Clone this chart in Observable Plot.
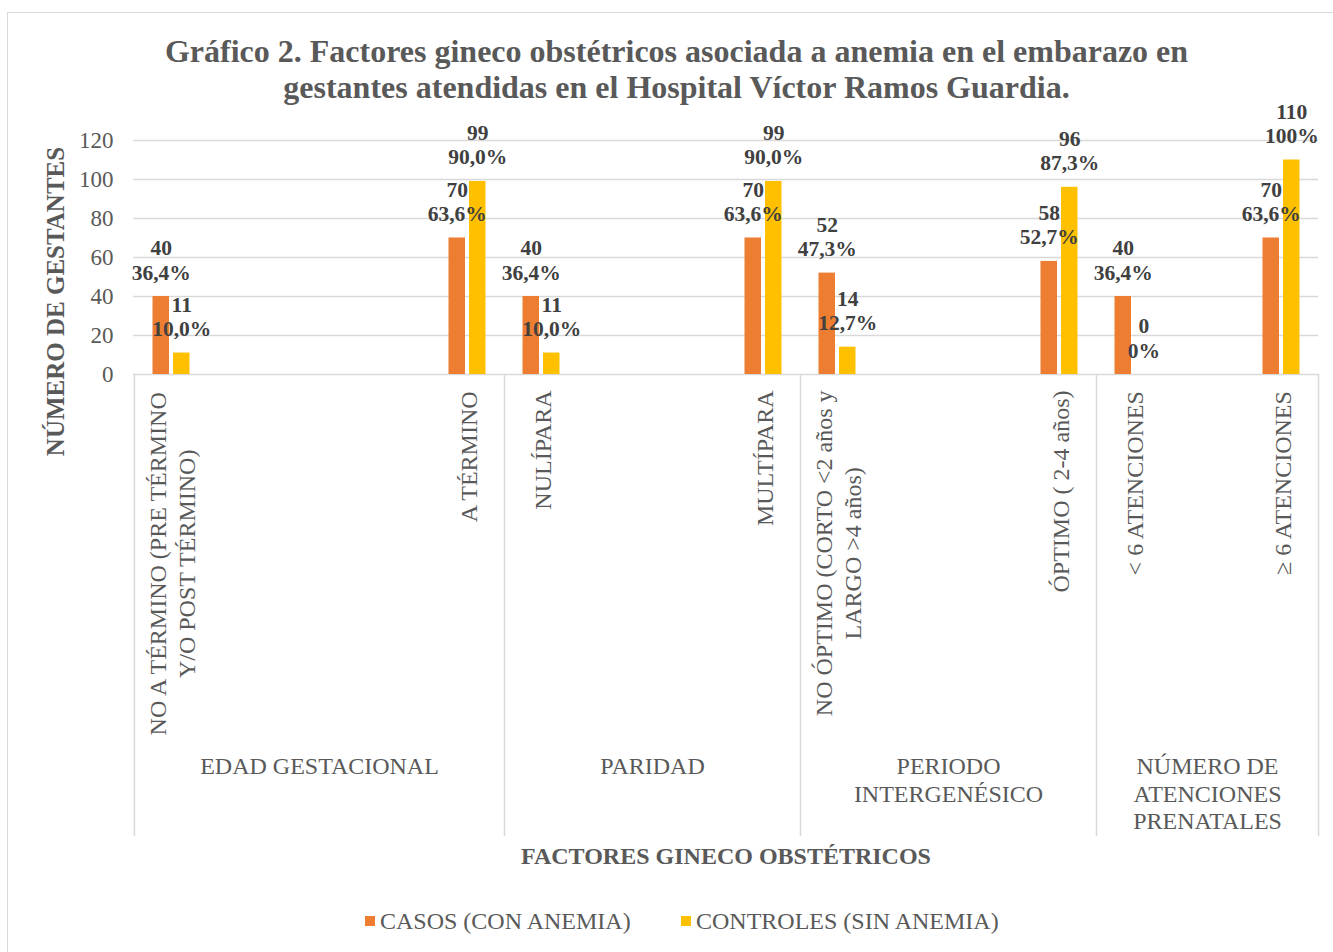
<!DOCTYPE html>
<html><head><meta charset="utf-8">
<script src="https://cdn.jsdelivr.net/npm/d3@7"></script>
<script src="https://cdn.jsdelivr.net/npm/@observablehq/plot@0.6"></script>
<style>
html,body{margin:0;padding:0;background:#fff;overflow:hidden;}
#wrap{position:relative;width:1333px;height:952px;overflow:hidden;font-family:"Liberation Serif","Times New Roman",serif;}
#frame{position:absolute;left:7px;top:12px;width:1345px;height:970px;border:1.5px solid #d9d9d9;box-sizing:border-box;}
#chart{position:absolute;left:0;top:0;}
#title{position:absolute;left:0;top:33px;width:1353px;text-align:center;font-weight:bold;font-size:32px;line-height:36px;color:#595959;}
.leg{position:absolute;top:909px;font-size:24px;line-height:24px;color:#595959;white-space:nowrap;}
.sw{position:absolute;top:916px;width:10px;height:10px;}
</style></head>
<body>
<div id="wrap"><div id="frame"></div><div id="chart"></div><div id="title"></div><div id="legend"></div></div>
<script>
const titleLines = ["Gráfico 2. Factores gineco obstétricos asociada a anemia en el embarazo en", "gestantes atendidas en el Hospital Víctor Ramos Guardia."];
const yTitle = "NÚMERO DE GESTANTES";
const xTitle = "FACTORES GINECO OBSTÉTRICOS";
const seriesNames = ["CASOS (CON ANEMIA)", "CONTROLES (SIN ANEMIA)"];
const seriesColors = ["#ED7D31", "#FFC000"];
const categoryLabels = [
  "NO A TÉRMINO (PRE TÉRMINO\nY/O POST TÉRMINO)", "", "", "", "A TÉRMINO",
  "NULÍPARA", "", "", "MULTÍPARA",
  "NO ÓPTIMO (CORTO <2 años y\nLARGO >4 años)", "", "", "ÓPTIMO ( 2-4 años)",
  "< 6 ATENCIONES", "", "≥ 6 ATENCIONES"
];
const categoryGroups = [
  "EDAD GESTACIONAL", "EDAD GESTACIONAL", "EDAD GESTACIONAL", "EDAD GESTACIONAL", "EDAD GESTACIONAL",
  "PARIDAD", "PARIDAD", "PARIDAD", "PARIDAD",
  "PERIODO\nINTERGENÉSICO", "PERIODO\nINTERGENÉSICO", "PERIODO\nINTERGENÉSICO", "PERIODO\nINTERGENÉSICO",
  "NÚMERO DE\nATENCIONES\nPRENATALES", "NÚMERO DE\nATENCIONES\nPRENATALES", "NÚMERO DE\nATENCIONES\nPRENATALES"
];
const casos = [40, null, null, null, 70, 40, null, null, 70, 52, null, null, 58, 40, null, 70];
const casosPct = ["36,4%", null, null, null, "63,6%", "36,4%", null, null, "63,6%", "47,3%", null, null, "52,7%", "36,4%", null, "63,6%"];
const controles = [11, null, null, null, 99, 11, null, null, 99, 14, null, null, 96, 0, null, 110];
const controlesPct = ["10,0%", null, null, null, "90,0%", "10,0%", null, null, "90,0%", "12,7%", null, null, "87,3%", "0%", null, "100%"];
const yTicks = [0, 20, 40, 60, 80, 100, 120];

document.getElementById("title").innerHTML = titleLines.join("<br>");
const leg = document.getElementById("legend");
leg.innerHTML =
  `<div class="sw" style="left:365px;background:${seriesColors[0]}"></div><div class="leg" style="left:380px">${seriesNames[0]}</div>` +
  `<div class="sw" style="left:681px;background:${seriesColors[1]}"></div><div class="leg" style="left:696px">${seriesNames[1]}</div>`;

const W = 1333, H = 952, ML = 133, MR = 15, MT = 140, MB = 578;
const nSlots = categoryLabels.length;
const step = (W - ML - MR) / nSlots;
const slots = d3.range(nSlots);
const mk = (vals, pcts) => slots.filter(i => vals[i] != null).map(i => ({i, v: vals[i], p: pcts[i]}));
const casosData = mk(casos, casosPct);
const controlesData = mk(controles, controlesPct);

const CAT_FS = 24;
const ctx = document.createElement("canvas").getContext("2d");
ctx.font = `${CAT_FS}px "Liberation Serif"`;
const longest = s => d3.max(s.split("\n"), l => ctx.measureText(l).width);

const catMarks = slots.filter(i => categoryLabels[i]).map(i =>
  Plot.text([categoryLabels[i]], {
    x: [i], text: d => d, frameAnchor: "bottom", rotate: -90, textAnchor: "middle", lineAnchor: "middle",
    dy: 16 + longest(categoryLabels[i]) / 2, fontSize: CAT_FS, lineHeight: 1.17, fill: "#595959"
  })
);

const groupNames = Array.from(new Set(categoryGroups));
const groupMarks = groupNames.map(g => {
  const first = categoryGroups.indexOf(g), last = categoryGroups.lastIndexOf(g);
  const mid = (first + last) / 2, xs = Math.floor(mid);
  return Plot.text([g], {
    x: [xs], text: d => d, dx: (mid - xs) * step, frameAnchor: "bottom", lineAnchor: "top",
    dy: 380, fontSize: 24, lineHeight: 1.15, fill: "#595959", textAnchor: "middle"
  });
});
const groupStarts = groupNames.map(g => categoryGroups.indexOf(g));

const barOpts = (fill, l, r) => ({x: "i", y: "v", fill, insetLeft: l, insetRight: r});
const lblOpts = dx => ({
  x: "i", y: "v", text: d => `${d.v}\n${d.p}`, dx, dy: -17, lineAnchor: "bottom",
  fontWeight: "bold", fontSize: 21.5, lineHeight: 1.12, fill: "#404040"
});

const chart = Plot.plot({
  width: W, height: H, marginLeft: ML, marginRight: MR, marginTop: MT, marginBottom: MB,
  style: {fontFamily: '"Liberation Serif", "Times New Roman", serif', background: "transparent", color: "#595959", overflow: "visible"},
  x: {type: "band", domain: slots, padding: 0, axis: null},
  y: {domain: [0, 120], axis: null},
  marks: [
    Plot.ruleY(yTicks, {y: d => d, stroke: "#d9d9d9", strokeWidth: 1.5}),
    Plot.ruleX(groupStarts, {x: d => d, dx: -step / 2, stroke: "#d9d9d9", strokeWidth: 1.5, insetTop: H - MB - MT, insetBottom: -462}),
    Plot.ruleX([nSlots - 1], {x: d => d, dx: step / 2, stroke: "#d9d9d9", strokeWidth: 1.5, insetTop: H - MB - MT, insetBottom: -462}),
    Plot.barY(casosData, barOpts(seriesColors[0], 18.5, 39)),
    Plot.barY(controlesData, barOpts(seriesColors[1], 39, 18.5)),
    Plot.text(casosData, lblOpts(-10.25)),
    Plot.text(controlesData, lblOpts(10.25)),
    Plot.text(yTicks, {y: d => d, text: d => String(d), frameAnchor: "left", textAnchor: "end", dx: -20, fontSize: 23, fill: "#595959"}),
    Plot.text([yTitle], {text: d => d, frameAnchor: "left", rotate: -90, textAnchor: "middle", lineAnchor: "middle", dx: -78, dy: 44, fontWeight: "bold", fontSize: 25, fill: "#595959"}),
    Plot.text([xTitle], {text: d => d, frameAnchor: "bottom", lineAnchor: "middle", dy: 482, fontWeight: "bold", fontSize: 24, fill: "#595959"}),
    ...catMarks,
    ...groupMarks
  ]
});
document.getElementById("chart").appendChild(chart);
</script>
</body></html>
